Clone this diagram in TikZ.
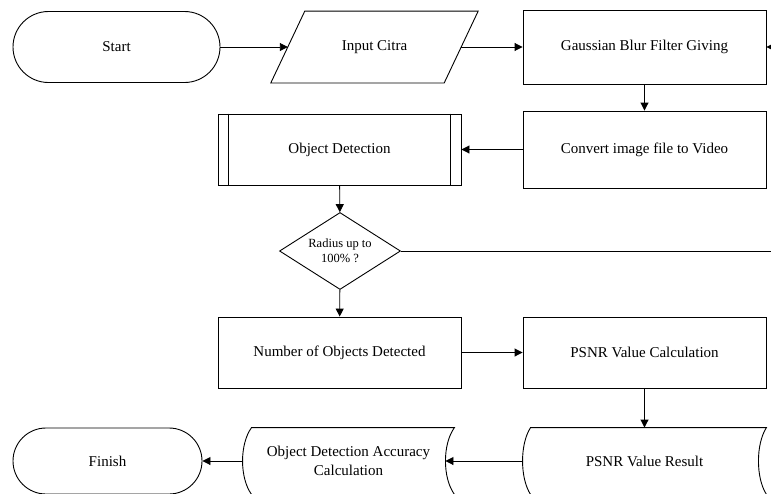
\documentclass[tikz,border=0pt]{standalone}
\usepackage{fontspec}
\setmainfont{Liberation Serif}
\usetikzlibrary{arrows.meta,shapes.misc,shapes.geometric,calc}
\newcommand{\sdshape}[3]{%
\draw ($(#1.north west)+(#2,0)$) -- (#1.north east)
  .. controls ($(#1.north east)+({-4*#2/3},#3)$) and ($(#1.south east)+({-4*#2/3},-#3)$) .. (#1.south east)
  -- ($(#1.south west)+(#2,0)$)
  .. controls ($(#1.south west)+({-#2/3},-#3)$) and ($(#1.north west)+({-#2/3},#3)$) .. ($(#1.north west)+(#2,0)$) -- cycle;}
\begin{document}
\begin{tikzpicture}[x=1pt,y=-1pt,line width=0.9pt,
  txt/.style={rectangle,inner sep=0pt,align=center,font=\fontsize{15}{18.5}\selectfont},
  box/.style={txt,draw,minimum width=243pt},
  term/.style={txt,draw,rounded rectangle},
  arr/.style={-{Triangle[length=8pt,width=8pt]}}]
\useasboundingbox (0,0) rectangle (771,493);
\clip (0,0) rectangle (771,493);
% nodes
\node[term,minimum width=207pt,minimum height=71pt] (start) at (116.5,47) {Start};
\node[txt,minimum width=172.5pt,minimum height=71pt] (input) at (374.5,47) {Input Citra};
\draw ($(input.south west)+(-17,0)$) -- ($(input.north west)+(17,0)$) -- ($(input.north east)+(17,0)$) -- ($(input.south east)+(-17,0)$) -- cycle;
\node[box,minimum height=74pt] (gauss) at (644.5,47) {Gaussian Blur Filter Giving};
\node[box,minimum height=77pt] (convert) at (644.5,149.5) {Convert image file to Video};
\node[box,minimum height=71pt] (objdet) at (339.5,149.5) {Object Detection};
\draw ($(objdet.north west)+(11,0)$) -- ($(objdet.south west)+(11,0)$);
\draw ($(objdet.north east)+(-11,0)$) -- ($(objdet.south east)+(-11,0)$);
\node[draw,diamond,aspect=1.6,inner sep=0pt,minimum width=121pt,minimum height=77pt,align=center,font=\fontsize{12.5}{15}\selectfont] (dec) at (340,251) {Radius up to\\100\% ?};
\node[box,minimum height=71pt] (number) at (339.5,352.5) {Number of Objects Detected};
\node[box,minimum height=71pt] (psnrc) at (644.5,352.5) {PSNR Value Calculation};
\node[txt,minimum width=243pt,minimum height=66pt] (psnrr) at (644.5,461) {PSNR Value Result};
\sdshape{psnrr}{8}{16.5}
\node[txt,minimum width=211pt,minimum height=66pt] (acc) at (348.5,461) {Object Detection Accuracy\\Calculation};
\sdshape{acc}{9}{16.5}
\node[term,minimum width=189pt,minimum height=66pt] (finish) at (107.5,461) {Finish};
\coordinate (rt1) at (771,251);
\coordinate (rt2) at (771,47);
% connectors
\draw[arr] (start.east) -- (input.west);
\draw[arr] (input.east) -- (gauss.west);
\draw[arr] (gauss) -- (convert);
\draw[arr] (convert) -- (objdet);
\draw[arr] (objdet) -- (dec);
\draw[arr] (dec) -- (number);
\draw (dec.east) -- (rt1);
\draw[arr] (rt2) -- (gauss.east);
\draw[arr] (number) -- (psnrc);
\draw[arr] (psnrc) -- (psnrr);
\draw[arr] (psnrr.west) -- ($(acc.east)+(-9,0)$);
\draw[arr] (acc.west) -- (finish.east);
\end{tikzpicture}
\end{document}
